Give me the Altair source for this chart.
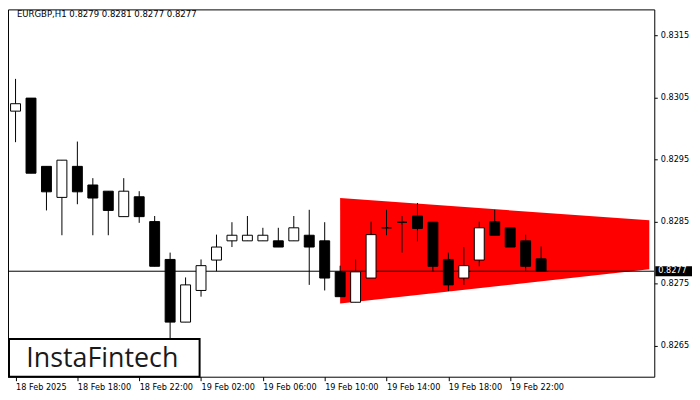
import altair as alt
import pandas as pd

symbol = "EURGBP,H1"

# hourly candles, index 0 = 18 Feb 2025 14:00
idx = list(range(35))
opens = [0.83028, 0.83049, 0.82939, 0.82889, 0.82939, 0.82909, 0.82899, 0.82858, 0.82890, 0.82850,
         0.82789, 0.82688, 0.82739, 0.82788, 0.82819, 0.82819, 0.82819, 0.82819, 0.82819, 0.82828,
         0.82819, 0.82769, 0.82720, 0.82759, 0.82840, 0.82849, 0.82859, 0.82849, 0.82789, 0.82759,
         0.82788, 0.82850, 0.82840, 0.82819, 0.82790]
highs = [0.83080, 0.83049, 0.82939, 0.82949, 0.82979, 0.82920, 0.82899, 0.82920, 0.82899, 0.82859,
         0.82800, 0.82760, 0.82789, 0.82829, 0.82849, 0.82859, 0.82840, 0.82840, 0.82859, 0.82869,
         0.82849, 0.82779, 0.82789, 0.82850, 0.82869, 0.82859, 0.82880, 0.82849, 0.82800, 0.82809,
         0.82850, 0.82869, 0.82840, 0.82829, 0.82810]
lows = [0.82978, 0.82928, 0.82868, 0.82828, 0.82878, 0.82828, 0.82828, 0.82858, 0.82848, 0.82778,
        0.82652, 0.82688, 0.82729, 0.82770, 0.82809, 0.82819, 0.82819, 0.82809, 0.82819, 0.82748,
        0.82739, 0.82729, 0.82720, 0.82759, 0.82828, 0.82800, 0.82818, 0.82770, 0.82738, 0.82748,
        0.82778, 0.82828, 0.82809, 0.82770, 0.82770]
closes = [0.83040, 0.82928, 0.82898, 0.82949, 0.82898, 0.82888, 0.82868, 0.82899, 0.82858, 0.82778,
          0.82688, 0.82748, 0.82779, 0.82809, 0.82828, 0.82828, 0.82828, 0.82809, 0.82840, 0.82809,
          0.82759, 0.82729, 0.82769, 0.82829, 0.82840, 0.82849, 0.82839, 0.82778, 0.82748, 0.82779,
          0.82840, 0.82828, 0.82809, 0.82778, 0.82770]

tick_idx = [0, 4, 8, 12, 16, 20, 24, 28, 32]
tick_labels = ["18 Feb 2025", "18 Feb 18:00", "18 Feb 22:00", "19 Feb 02:00", "19 Feb 06:00",
               "19 Feb 10:00", "19 Feb 14:00", "19 Feb 18:00", "19 Feb 22:00"]
price_ticks = [0.8265, 0.8275, 0.8285, 0.8295, 0.8305, 0.8315]
current_price = 0.8277

# symmetrical triangle pattern
tri_idx = [21, 41]
tri_top = [0.82888, 0.82852]
tri_bot = [0.82718, 0.82773]

brand = "InstaFintech"

df = pd.DataFrame({"i": idx, "open": opens, "high": highs, "low": lows, "close": closes})
df["top"] = df[["open", "close"]].max(axis=1)
df["bot"] = df[["open", "close"]].min(axis=1)
tri = pd.DataFrame({"i": tri_idx, "top": tri_top, "bot": tri_bot})
cur = pd.DataFrame({"p": [current_price], "lbl": [f"{current_price:.4f}"]})
last = df.iloc[-1]
head = pd.DataFrame({"t": [f"{symbol} {last.open:.4f} {last.high:.4f} {last.low:.4f} {last.close:.4f}"]})
logo = pd.DataFrame({"t": [brand]})

FONT = "DejaVu Sans"
FS = 8.2
W, H = 651, 370

xscale = alt.Scale(domain=[-0.1667, 41], nice=False, zero=False)
yscale = alt.Scale(domain=[0.8260, 0.83192], nice=False, zero=False)
label_expr = "[" + ",".join(f"'{s}'" for s in tick_labels) + "][round(datum.value/4)]"
xaxis = alt.Axis(values=tick_idx, labelExpr=label_expr, orient="bottom", domain=False, grid=False,
                 tickSize=4, tickColor="black", labelAlign="left", labelPadding=3,
                 labelFont=FONT, labelFontSize=FS, labelColor="black", title=None,
                 labelFlush=False, labelOverlap=False, labelBound=False)
yaxis = alt.Axis(values=price_ticks, format=".4f", orient="right", domain=False, grid=False,
                 tickSize=3, tickColor="black", labelPadding=3, labelFont=FONT, labelFontSize=FS,
                 labelColor="black", title=None, labelOverlap=False, labelFlush=False)


def X(f):
    return alt.X(f, scale=xscale, axis=xaxis)


def Y(f):
    return alt.Y(f, scale=yscale, axis=yaxis)


tri_layer = alt.Chart(tri).mark_area(color="#ff0000", opacity=1, clip=True).encode(
    x=X("i:Q"), y=Y("top:Q"), y2="bot:Q")

hline = alt.Chart(cur).mark_rule(color="black", strokeWidth=1, clip=True).encode(y=Y("p:Q"))

wicks = alt.Chart(df).mark_rule(color="black", strokeWidth=1, clip=True).encode(
    x=X("i:Q"), y=Y("low:Q"), y2="high:Q")

bodies = alt.Chart(df).mark_bar(size=10, stroke="black", strokeWidth=1, clip=True).encode(
    x=X("i:Q"), y=Y("top:Q"), y2="bot:Q",
    fill=alt.condition("datum.close >= datum.open", alt.value("white"), alt.value("black")))

header = alt.Chart(head).mark_text(align="left", baseline="top", font=FONT, fontSize=8.6,
                                   color="black").encode(
    text="t:N", x=alt.value(9), y=alt.value(1))

logo_box = alt.Chart(logo).mark_rect(fill="white", stroke="black", strokeWidth=2).encode(
    x=alt.value(1), x2=alt.value(193), y=alt.value(332), y2=alt.value(370))
logo_txt = alt.Chart(logo).mark_text(align="center", baseline="alphabetic", font="Open Sans",
                                     fontSize=27, fontWeight=500, color="#1a1a1a").encode(
    text="t:N", x=alt.value(95), y=alt.value(360))

tag_rect = alt.Chart(cur).transform_calculate(hi="datum.p + 0.00008", lo="datum.p - 0.00008").mark_rect(
    color="black").encode(x=alt.value(652), x2=alt.value(689), y=Y("hi:Q"), y2="lo:Q")
tag_txt = alt.Chart(cur).mark_text(align="left", baseline="middle", font=FONT, fontSize=FS,
                                   color="white").encode(
    text="lbl:N", x=alt.value(655), y=Y("p:Q"))

chart = alt.layer(tri_layer, hline, wicks, bodies, header, logo_box, logo_txt, tag_rect, tag_txt).properties(
    width=W, height=H, padding={"left": 0, "top": 0, "right": 0, "bottom": 0}, background="white"
).configure_view(stroke="black", strokeWidth=1)

chart.save("out.html", embed_options={"renderer": "svg", "actions": False})
